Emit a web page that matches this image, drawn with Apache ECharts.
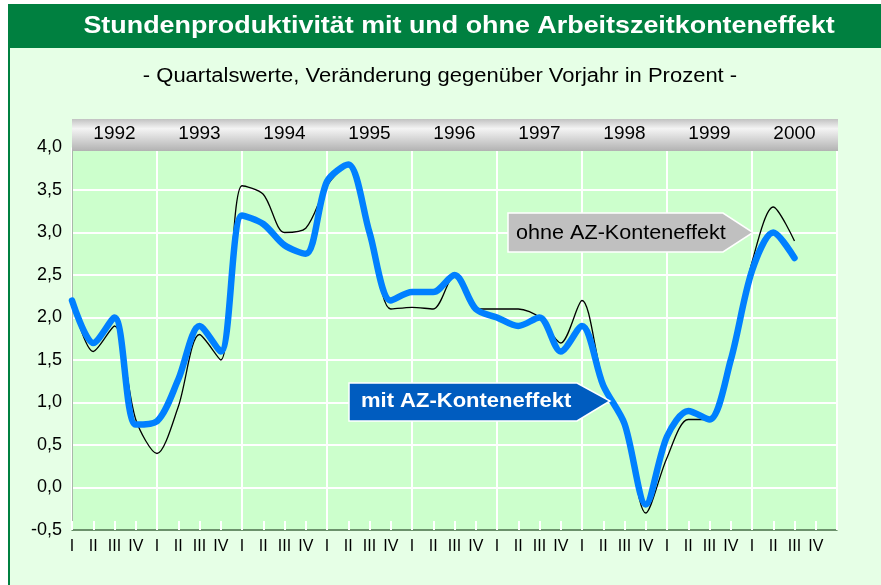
<!DOCTYPE html>
<html>
<head>
<meta charset="utf-8">
<script src="https://cdn.jsdelivr.net/npm/echarts@6/dist/echarts.min.js"></script>
<style>
  html, body { margin: 0; padding: 0; background: #ffffff; }
  .frame {
    position: absolute; left: 8px; top: 4px; width: 900px; height: 600px;
    background: #e6ffe6; border-left: 2px solid #008040;
  }
  #main { position: absolute; left: 0; top: 0; width: 881px; height: 585px; }
</style>
</head>
<body>
<div class="frame"></div>
<div id="main"></div>
<script>
// quarterly values, change vs previous year in percent (1992 I .. 2000 III)
var years = ['1992', '1993', '1994', '1995', '1996', '1997', '1998', '1999', '2000'];
var quarters = ['I', 'II', 'III', 'IV'];
var mitAZ = [2.2, 1.7, 2.0, 0.74, 0.78, 1.27, 1.9, 1.6,
             3.2, 3.1, 2.85, 2.75, 3.6, 3.8, 3.0, 2.2,
             2.3, 2.3, 2.5, 2.1, 2.0, 1.9, 2.0, 1.6,
             1.9, 1.2, 0.75, -0.2, 0.6, 0.9, 0.8, 1.5,
             2.55, 3.0, 2.7];
var ohneAZ = [2.2, 1.6, 1.9, 0.8, 0.4, 0.95, 1.8, 1.5,
              3.55, 3.45, 3.0, 3.05, 3.55, 3.8, 3.05, 2.1,
              2.12, 2.1, 2.5, 2.1, 2.1, 2.1, 2.0, 1.7,
              2.2, 1.25, 0.75, -0.3, 0.35, 0.8, 0.8, 1.55,
              2.65, 3.3, 2.9];

var quarterLabels = [];
years.forEach(function () {
  quarters.forEach(function (q) { quarterLabels.push(q); });
});
quarterLabels.push('');

var font = '"Liberation Sans", Arial, sans-serif';
var myChart = echarts.init(document.getElementById('main'));

myChart.setOption({
  animation: false,
  textStyle: { fontFamily: font },
  grid: {
    left: 72, right: 44, top: 147.5, bottom: 55,
    show: true, backgroundColor: '#ccffcc', borderWidth: 0
  },
  xAxis: [{
    type: 'category',
    data: quarterLabels,
    boundaryGap: false,
    axisLine: { onZero: false, lineStyle: { color: '#3c6e3c', width: 1.5 } },
    axisTick: { show: true, inside: true, length: 9, interval: 0, lineStyle: { color: '#ffffff', width: 2 } },
    axisLabel: { interval: 0, color: '#000', fontSize: 16, margin: 9 },
    splitLine: {
      show: true,
      interval: function (index) { return index % 4 === 0; },
      lineStyle: { color: '#ffffff', width: 2 }
    }
  }, {
    type: 'category',
    position: 'top',
    data: years,
    boundaryGap: true,
    z: 10,
    axisLine: { show: false },
    axisTick: { show: false },
    axisLabel: { color: '#000', fontSize: 19, margin: 4 },
    splitLine: { show: false }
  }],
  yAxis: {
    type: 'value',
    min: -0.5, max: 4, interval: 0.5,
    axisLine: { show: true, lineStyle: { color: '#aab8aa', width: 1 } },
    axisTick: { show: false },
    axisLabel: {
      color: '#000', fontSize: 18, margin: 10,
      formatter: function (v) { return v.toFixed(1).replace('.', ','); }
    },
    splitLine: { lineStyle: { color: '#ffffff', width: 2 } }
  },
  graphic: [
    { type: 'rect', z: 1, shape: { x: 9, y: 4, width: 880, height: 44 }, style: { fill: '#008040' } },
    {
      type: 'text', z: 2, x: 459, y: 26, scaleX: 1.12,
      style: { text: 'Stundenproduktivität mit und ohne Arbeitszeitkonteneffekt', fill: '#ffffff',
               font: 'bold 24px ' + font, align: 'center', verticalAlign: 'middle' }
    },
    {
      type: 'text', z: 2, x: 440, y: 76, scaleX: 1.1,
      style: { text: '- Quartalswerte, Veränderung gegenüber Vorjahr in Prozent -', fill: '#000000',
               font: '20px ' + font, align: 'center', verticalAlign: 'middle' }
    },
    {
      type: 'rect', z: 5, shape: { x: 72, y: 119, width: 766, height: 32 },
      style: {
        fill: new echarts.graphic.LinearGradient(0, 0, 0, 1, [
          { offset: 0, color: '#c2c2c2' },
          { offset: 0.3, color: '#f4f4f4' },
          { offset: 1, color: '#b2b2b2' }
        ])
      }
    },
    {
      type: 'polygon', z: 6,
      shape: { points: [[508, 213], [723, 213], [753, 232.5], [723, 252], [508, 252]] },
      style: { fill: '#c0c0c0', stroke: '#ffffff', lineWidth: 1.5 }
    },
    {
      type: 'text', z: 7, x: 516, y: 233, scaleX: 1.08,
      style: { text: 'ohne AZ-Konteneffekt', fill: '#000', font: '20px ' + font, verticalAlign: 'middle' }
    },
    {
      type: 'polygon', z: 6,
      shape: { points: [[349, 383], [577, 383], [610, 401], [577, 421], [349, 421]] },
      style: { fill: '#005cbf', stroke: '#ffffff', lineWidth: 1.5 }
    },
    {
      type: 'text', z: 7, x: 361, y: 401, scaleX: 1.1,
      style: { text: 'mit AZ-Konteneffekt', fill: '#ffffff', font: 'bold 20px ' + font, verticalAlign: 'middle' }
    }
  ],
  series: [{
    name: 'ohne AZ-Konteneffekt',
    type: 'line',
    data: ohneAZ,
    smooth: 0.3,
    showSymbol: false,
    z: 3,
    lineStyle: { color: '#000000', width: 1.3 }
  }, {
    name: 'mit AZ-Konteneffekt',
    type: 'line',
    data: mitAZ,
    smooth: 0.3,
    showSymbol: false,
    z: 4,
    lineStyle: { color: '#0080ff', width: 6.5, cap: 'round', join: 'round' }
  }]
});

window.addEventListener('resize', function () {
  myChart.resize();
});
</script>
</body>
</html>
